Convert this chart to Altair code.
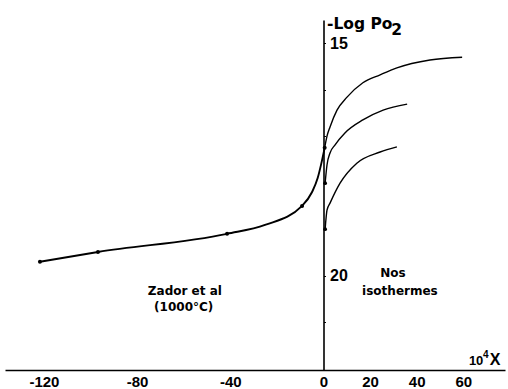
import altair as alt
import pandas as pd

# Zador et al. (1000 °C): deviation 10^4 X against -log Po2
zador_x = [-121.7, -96.8, -41.4, -25.1, -9.2, -4.9, -2.5, -1.0, 0.5]
zador_y = [19.70, 19.49, 19.10, 18.91, 18.50, 18.20, 17.90, 17.60, 17.25]
zador_measured = [True, True, True, False, True, False, False, False, True]

# our three isotherms (upper, middle, lower)
iso_a_x = [0.5, 1.5, 2.8, 5.8, 10.1, 16.9, 24.3, 31.5, 45.7, 59.5]
iso_a_y = [17.25, 17.00, 16.80, 16.44, 16.16, 15.85, 15.68, 15.53, 15.36, 15.30]
iso_b_x = [0.7, 1.5, 2.8, 4.9, 9.2, 16.9, 25.6, 35.9]
iso_b_y = [18.01, 17.62, 17.36, 17.19, 16.93, 16.65, 16.44, 16.31]
iso_c_x = [0.7, 1.5, 2.8, 7.1, 14.3, 24.3, 31.5]
iso_c_y = [19.00, 18.59, 18.44, 18.01, 17.58, 17.34, 17.23]

x_ticks = [-120, -80, -40, 0, 20, 40, 60]
y_ticks = [15, 16, 17, 18, 19, 20, 21]
y_labelled = [15, 20]

X_DOMAIN = [-136.7, 77.9]
Y_DOMAIN = [14.5, 22.03]
W, H = 500, 350

zador = pd.DataFrame({"x": zador_x, "y": zador_y, "measured": zador_measured})
iso = pd.concat([
    pd.DataFrame({"x": iso_a_x, "y": iso_a_y, "serie": "a"}),
    pd.DataFrame({"x": iso_b_x, "y": iso_b_y, "serie": "b"}),
    pd.DataFrame({"x": iso_c_x, "y": iso_c_y, "serie": "c"}),
])
starts = pd.DataFrame({"x": [iso_b_x[0], iso_c_x[0]], "y": [iso_b_y[0], iso_c_y[0]]})

# y axis sits on x = 0, inside the plot
zero_px = (0 - X_DOMAIN[0]) / (X_DOMAIN[1] - X_DOMAIN[0]) * W

x_enc = alt.X(
    "x:Q",
    scale=alt.Scale(domain=X_DOMAIN, nice=False, zero=False),
    axis=alt.Axis(
        values=x_ticks, grid=False, ticks=False, title=None,
        domainColor="black", domainWidth=1.6,
        labelFont="Liberation Sans", labelFontWeight="bold", labelFontSize=15,
        labelColor="black", labelPadding=4,
        labelExpr="(datum.value < 0 ? '-' : '') + abs(datum.value)",
    ),
)
y_enc = alt.Y(
    "y:Q",
    scale=alt.Scale(domain=Y_DOMAIN, nice=False, zero=False, reverse=True),
    axis=alt.Axis(
        orient="right", offset=-(W - zero_px), values=y_ticks, grid=False,
        title=None, tickSize=2, tickColor="black", tickWidth=1,
        domainColor="black", domainWidth=1.6,
        labelFont="Liberation Sans", labelFontWeight="bold", labelFontSize=16,
        labelColor="black", labelPadding=4, labelAlign="left",
        labelExpr="indexof(%s, datum.value) >= 0 ? datum.label : ''" % str(y_labelled),
    ),
)

zador_line = alt.Chart(zador).mark_line(
    interpolate="monotone", color="black", strokeWidth=1.9
).encode(x=x_enc, y=y_enc)

zador_dots = alt.Chart(zador).transform_filter("datum.measured").mark_circle(
    color="black", size=16, opacity=1
).encode(x=x_enc, y=y_enc)

iso_lines = alt.Chart(iso).mark_line(
    interpolate="monotone", color="black", strokeWidth=1.4
).encode(x=x_enc, y=y_enc, detail="serie:N")

start_dots = alt.Chart(starts).mark_circle(color="black", size=14, opacity=1).encode(
    x=x_enc, y=y_enc
)

# text annotations in data coordinates
def text_layer(rows, font, size, align="left"):
    df = pd.DataFrame(rows, columns=["x", "y", "t"])
    return alt.Chart(df).mark_text(
        font=font, fontSize=size, fontWeight="bold", color="black",
        align=align, baseline="alphabetic",
    ).encode(x=x_enc, y=y_enc, text="t:N")

title_main = text_layer([(1.5, 14.69, "-Log Po")], "DejaVu Sans", 15.5)
title_sub = text_layer([(29.1, 14.83, "2")], "DejaVu Sans", 15.5)
x_title_a = text_layer([(62.4, 21.93, "10")], "Liberation Sans", 13)
x_title_b = text_layer([(68.5, 21.78, "4")], "Liberation Sans", 10)
x_title_c = text_layer([(71.4, 21.93, "X")], "Liberation Sans", 16)
notes = text_layer(
    [(-59.5, 20.41, "Zador et al"), (-60.0, 20.76, "(1000°C)"),
     (29.8, 20.03, "Nos"), (32.8, 20.41, "isothermes")],
    "DejaVu Sans", 12, align="center",
)

chart = alt.layer(
    zador_line, zador_dots, iso_lines, start_dots,
    title_main, title_sub, x_title_a, x_title_b, x_title_c, notes,
).properties(
    width=W, height=H,
    autosize=alt.AutoSizeParams(type="none"),
    padding={"left": 5, "top": 20, "right": 3, "bottom": 19},
    background="white",
).configure_view(stroke=None)

chart.save("out.html", embed_options={"renderer": "svg", "actions": False})
